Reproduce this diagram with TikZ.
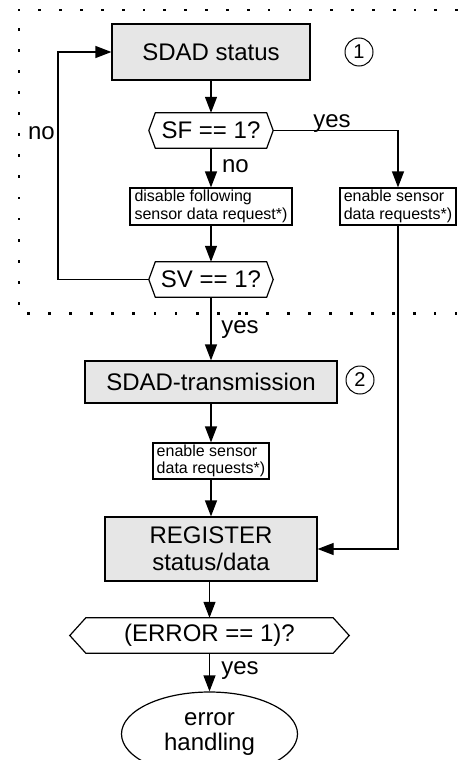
\documentclass[tikz,border=0pt]{standalone}
\usepackage{fontspec}
\setmainfont{Liberation Sans}
\usetikzlibrary{arrows.meta,shapes.geometric}
\definecolor{boxgray}{HTML}{E6E6E6}
\newcommand\hexdraw[2]{\draw[line] (#1.west) -- ([xshift=#2pt]#1.north west) -- ([xshift=-#2pt]#1.north east) -- (#1.east) -- ([xshift=-#2pt]#1.south east) -- ([xshift=#2pt]#1.south west) -- cycle;}
\begin{document}
\begin{tikzpicture}[x=1pt,y=-1pt,
  line/.style={line width=1.2pt},
  arr/.style={line width=1.2pt,-{Triangle[length=16pt,width=12pt]}},
  graybox/.style={draw,line width=1.2pt,fill=boxgray,inner sep=0pt,align=center,font=\fontsize{24}{27}\selectfont},
  smallbox/.style={draw,line width=1.2pt,fill=white,inner sep=0pt,align=left,font=\fontsize{16}{17.5}\selectfont},
  hexnode/.style={rectangle,inner sep=0pt,minimum height=35pt,font=\fontsize{24}{27}\selectfont},
  lbl/.style={inner sep=0pt,anchor=base,font=\fontsize{24}{27}\selectfont},
  num/.style={circle,draw,line width=1pt,minimum size=28pt,inner sep=0pt,font=\fontsize{20}{20}\selectfont},
  dot/.style={fill=black}
]
\useasboundingbox[fill=white] (0,0) rectangle (462,760);

% dotted frame
\foreach \i in {0,...,21} \fill[dot] ({19+20.84*\i},10) ++(-1.4,-1.4) rectangle ++(2.8,2.8);
\foreach \i in {0,...,13} \fill[dot] (19,{29.3+21.08*\i}) ++(-1.4,-1.4) rectangle ++(2.8,2.8);
\foreach \i in {0,...,10} \fill[dot] ({28.3+21.11*\i},313.5) ++(-1.4,-1.4) rectangle ++(2.8,2.8);
\foreach \i in {0,...,10} \fill[dot] ({246.7+20.93*\i},313.5) ++(-1.4,-1.4) rectangle ++(2.8,2.8);

% nodes
\node[graybox,minimum width=198pt,minimum height=56pt] (sdad) at (211,52) {SDAD status};
\node[num] (c1) at (359,52) {1};
\node[hexnode,minimum width=124pt] (sf) at (211,130.5) {SF == 1?};
\hexdraw{sf}{6.5}
\node[smallbox,minimum width=162pt,minimum height=37pt] (dis) at (211,206.5) {disable following\\sensor data request*)};
\node[smallbox,minimum width=116pt,minimum height=37pt] (en1) at (398,206.5) {enable sensor\\data requests*)};
\node[hexnode,minimum width=124pt] (sv) at (211,279.5) {SV == 1?};
\hexdraw{sv}{6.5}
\node[graybox,minimum width=252pt,minimum height=42pt] (tx) at (211,382) {SDAD-transmission};
\node[num] (c2) at (360,380) {2};
\node[smallbox,minimum width=116pt,minimum height=36pt] (en2) at (211,461) {enable sensor\\data requests*)};
\node[graybox,minimum width=212pt,minimum height=64pt] (reg) at (211,549) {REGISTER\\status/data};
\node[hexnode,minimum width=279pt] (err) at (209.5,635.5) {(ERROR == 1)?};
\hexdraw{err}{16}
\node[ellipse,draw,line width=1.2pt,minimum width=176pt,minimum height=84pt,inner sep=0pt,align=center,font=\fontsize{24}{25}\selectfont] (eh) at (209.5,734) {error\\handling};

% labels
\node[lbl] (yes1) at (332,127) {yes};
\node[lbl] (no1) at (235.5,172) {no};
\node[lbl] (no2) at (41.5,139) {no};
\node[lbl] (yes2) at (240,333) {yes};
\node[lbl] (yes3) at (240,674.5) {yes};

% connectors
\coordinate (lp) at (58,279.5);
\draw[arr] (sdad.south) -- (sf.north);
\draw[arr] (sf.south) -- (dis.north);
\draw[arr] (sf.east) -| (en1.north);
\draw[arr] (dis.south) -- (sv.north);
\draw[arr] (sv.west) -- (lp) |- (sdad.west);
\draw[arr] (sv.south) -- (tx.north);
\draw[arr] (tx.south) -- (en2.north);
\draw[arr] (en2.south) -- (reg.north);
\draw[arr] (en1.south) |- (reg.east);
\draw[arr] (err.north |- reg.south) -- (err.north);
\draw[arr] (err.south) -- (eh.north);
\end{tikzpicture}
\end{document}
